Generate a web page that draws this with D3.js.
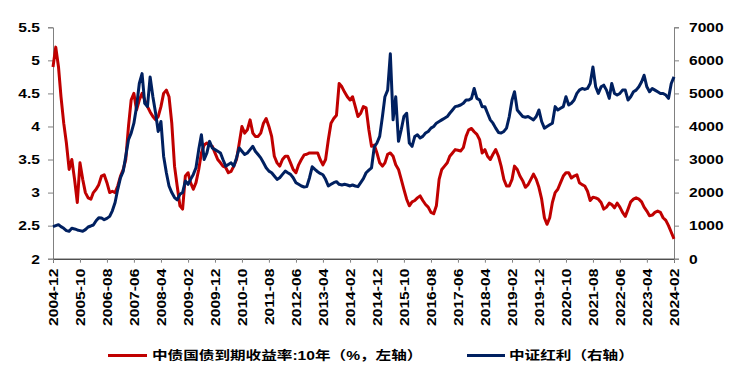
<!DOCTYPE html>
<html>
<head>
<meta charset="utf-8">
<script src="https://cdn.jsdelivr.net/npm/d3@7/dist/d3.min.js"></script>
<style>
  html, body { margin: 0; padding: 0; background: #fff; }
  svg { display: block; }
</style>
</head>
<body>
<div id="chart"></div>
<script>
// ---- data (monthly, starting 2004-12) ----
const startMonth = "2004-12";

const yield10 = [
  4.9,5.2,4.9,4.45,4.05,3.75,3.35,3.5,3.2,2.85,3.45,3.2,3.0,2.92,2.9,3.0,3.05,3.12,3.25,3.27,
  3.15,3.0,3.02,3.0,3.1,3.25,3.35,3.5,4.0,4.4,4.5,4.25,4.4,4.5,4.4,4.3,4.22,4.15,4.1,4.15,
  4.3,4.5,4.55,4.45,4.05,3.4,3.1,2.8,2.75,3.25,3.3,3.15,3.05,3.15,3.35,3.6,3.72,3.75,3.72,3.7,
  3.6,3.5,3.45,3.4,3.38,3.3,3.32,3.4,3.5,3.75,4.0,3.9,3.95,4.1,3.9,3.85,3.85,3.9,4.05,4.12,
  4.0,3.85,3.55,3.45,3.4,3.5,3.55,3.55,3.45,3.35,3.3,3.42,3.5,3.57,3.58,3.6,3.6,3.6,3.6,3.5,
  3.42,3.5,3.8,4.05,4.12,4.17,4.65,4.6,4.52,4.45,4.4,4.45,4.3,4.15,4.2,4.3,4.28,3.95,3.7,3.72,
  3.6,3.45,3.4,3.45,3.58,3.6,3.55,3.42,3.35,3.2,3.05,2.9,2.8,2.86,2.88,2.92,2.95,2.88,2.82,2.78,
  2.7,2.68,2.8,3.2,3.35,3.4,3.45,3.55,3.6,3.65,3.64,3.63,3.68,3.85,3.95,3.97,3.92,3.88,3.8,3.6,
  3.65,3.55,3.5,3.58,3.65,3.55,3.4,3.2,3.1,3.1,3.2,3.4,3.35,3.25,3.18,3.08,3.12,3.2,3.28,3.2,
  3.08,2.9,2.62,2.52,2.62,2.85,3.0,3.05,3.15,3.25,3.3,3.3,3.22,3.25,3.27,3.15,3.12,3.1,3.02,2.88,
  2.93,2.92,2.9,2.85,2.75,2.78,2.84,2.82,2.77,2.84,2.78,2.7,2.64,2.75,2.86,2.9,2.92,2.9,2.86,2.78,
  2.72,2.65,2.66,2.7,2.72,2.7,2.62,2.58,2.5,2.4,2.3
];

const dividend = [
  970,1000,1030,970,920,850,830,920,900,870,850,830,880,960,990,1020,1150,1240,1230,1180,
  1220,1280,1450,1700,2100,2450,2650,3100,3600,3800,4100,4600,5300,5600,4700,4600,5500,4900,4400,3850,
  4150,3100,2600,2200,2000,1850,1780,1950,2000,2350,2250,2400,2550,2750,3300,3750,3000,3200,3550,3350,
  3300,3250,3200,3000,2800,2850,2900,2800,3050,3350,3250,3150,3200,3300,3400,3250,3150,3050,2900,2750,
  2650,2600,2500,2400,2450,2550,2650,2600,2550,2450,2300,2250,2200,2170,2180,2450,2780,2700,2630,2580,
  2540,2400,2200,2250,2300,2330,2250,2230,2250,2230,2200,2230,2200,2180,2300,2420,2600,2680,2750,3380,
  3500,3700,4300,4900,5100,6200,4200,4900,3550,3900,4300,4400,3500,3400,3700,3750,3650,3700,3800,3850,
  3950,4000,4100,4150,4200,4250,4300,4400,4500,4600,4620,4650,4700,4800,4800,4850,5150,4850,4800,4600,
  4600,4400,4200,4100,3950,3820,3800,3850,3950,4300,4800,5050,4500,4400,4300,4280,4300,4250,4200,4300,
  4500,4150,3950,4000,4050,4100,4600,4500,4550,4600,4900,4650,4700,4800,5000,5100,5150,5120,5150,5300,
  5800,5200,5000,5200,5250,5100,4850,5300,5000,4950,5000,5100,5100,4800,4900,5050,5100,5200,5350,5550,
  5200,5050,5150,5100,5050,5000,5000,4950,4850,5300,5500
];

const xTickLabels = ["2004-12","2005-10","2006-08","2007-06","2008-04","2009-02","2009-12","2010-10",
  "2011-08","2012-06","2013-04","2014-02","2014-12","2015-10","2016-08","2017-06","2018-04","2019-02",
  "2019-12","2020-10","2021-08","2022-06","2023-04","2024-02"];
const leftTicks = [2, 2.5, 3, 3.5, 4, 4.5, 5, 5.5];
const rightTicks = [0, 1000, 2000, 3000, 4000, 5000, 6000, 7000];
const seriesNames = ["中债国债到期收益率:10年（%，左轴）", "中证红利（右轴）"];
const seriesColors = ["#C00000", "#002060"];

// ---- chart ----
const W = 738, H = 370;
const plot = { left: 53, right: 674, top: 27.3, bottom: 258.7 };
const parseM = d3.utcParse("%Y-%m");
const start = parseM(startMonth);
const dates = yield10.map((_, i) => d3.utcMonth.offset(start, i));

const svg = d3.select("#chart").append("svg").attr("width", W).attr("height", H);

const x = d3.scaleUtc().domain([dates[0], dates[dates.length - 1]]).range([plot.left, plot.right]);
const yL = d3.scaleLinear().domain([2, 5.5]).range([plot.bottom, plot.top]);
const yR = d3.scaleLinear().domain([0, 7000]).range([plot.bottom, plot.top]);

const FONT = "'Liberation Sans', Arial, 'Noto Sans CJK SC', sans-serif";
const SX = 1.3;

// left axis
const gL = svg.append("g").attr("transform", `translate(${plot.left},0)`)
  .call(d3.axisLeft(yL).tickValues(leftTicks).tickSize(5).tickFormat(d => d3.format("")(d)));
gL.select(".domain").attr("stroke", "#808080");
gL.selectAll(".tick line").attr("stroke", "#808080");
gL.selectAll(".tick text")
  .attr("x", -13 / SX).attr("dy", "0.36em")
  .attr("transform", `scale(${SX},1)`)
  .style("font-family", FONT).style("font-weight", "bold").style("font-size", "12px").attr("fill", "#000");

// right axis
const gR = svg.append("g").attr("transform", `translate(${plot.right},0)`)
  .call(d3.axisRight(yR).tickValues(rightTicks).tickSize(5).tickFormat(d3.format("d")));
gR.select(".domain").attr("stroke", "#808080");
gR.selectAll(".tick line").attr("stroke", "#808080");
gR.selectAll(".tick text")
  .attr("x", 15 / SX).attr("dy", "0.36em")
  .attr("transform", `scale(${SX},1)`)
  .style("font-family", FONT).style("font-weight", "bold").style("font-size", "12px").attr("fill", "#000");

// bottom axis
const gX = svg.append("g").attr("transform", `translate(0,${plot.bottom})`)
  .call(d3.axisBottom(x).tickValues(xTickLabels.map(parseM)).tickSize(4).tickFormat(d3.utcFormat("%Y-%m")));
gX.select(".domain").attr("stroke", "#000");
gX.selectAll(".tick line").attr("stroke", "#808080");
gX.selectAll(".tick text")
  .attr("text-anchor", "end")
  .attr("x", -10 / SX).attr("y", 0).attr("dy", "0.36em")
  .attr("transform", `rotate(-90) scale(${SX},1)`)
  .style("font-family", FONT).style("font-weight", "bold").style("font-size", "12px").attr("fill", "#000");

// lines
const lineL = d3.line().x((d, i) => x(dates[i])).y(d => yL(d));
const lineR = d3.line().x((d, i) => x(dates[i])).y(d => yR(d));

svg.append("path").datum(yield10).attr("d", lineL)
  .attr("fill", "none").attr("stroke", seriesColors[0]).attr("stroke-width", 3).attr("stroke-linejoin", "round");
svg.append("path").datum(dividend).attr("d", lineR)
  .attr("fill", "none").attr("stroke", seriesColors[1]).attr("stroke-width", 3).attr("stroke-linejoin", "round");

// legend
const legendItems = [
  { x1: 108, x2: 147, tx: 152 },
  { x1: 467, x2: 505, tx: 509 }
];
const ly = 355.5;
legendItems.forEach((it, i) => {
  svg.append("line").attr("x1", it.x1).attr("x2", it.x2).attr("y1", ly).attr("y2", ly)
    .attr("stroke", seriesColors[i]).attr("stroke-width", 3);
  svg.append("text")
    .attr("transform", `translate(${it.tx},${ly}) scale(1.25,1)`)
    .attr("dy", "0.38em")
    .style("font-family", FONT).style("font-weight", "bold").style("font-size", "12.5px")
    .attr("fill", "#000")
    .text(seriesNames[i]);
});
</script>
</body>
</html>
